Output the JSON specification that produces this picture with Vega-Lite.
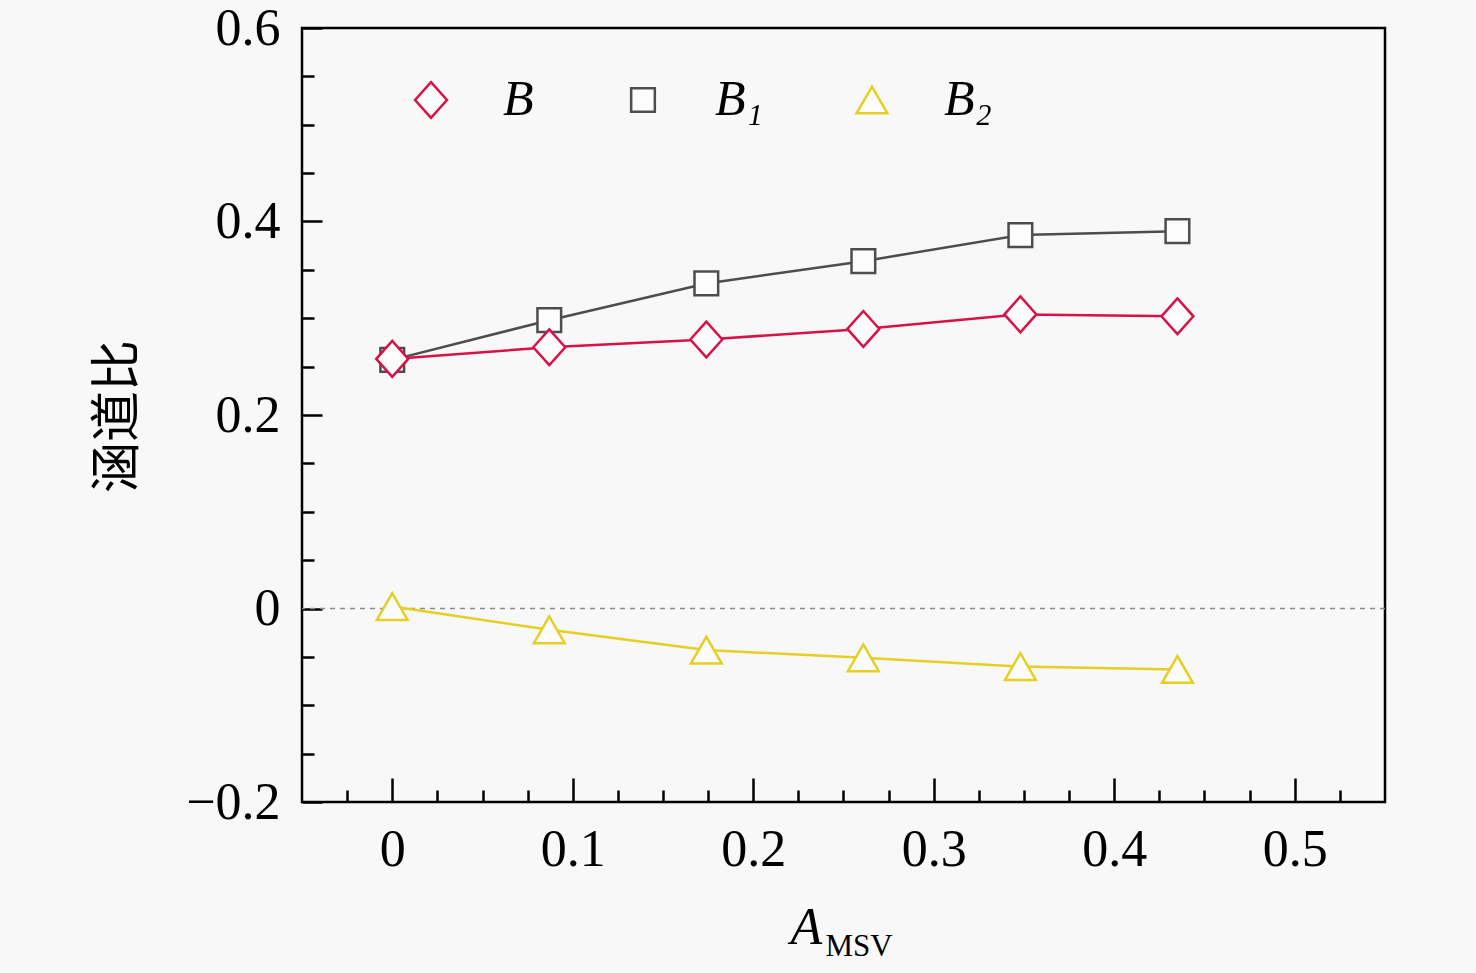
{
  "$schema": "https://vega.github.io/schema/vega-lite/v6.json",
  "width": 1083,
  "height": 774,
  "autosize": {"type": "none"},
  "padding": {"left": 302, "top": 28, "right": 91, "bottom": 171},
  "background": "#f8f8f8",
  "config": {
    "view": {"stroke": "#000000", "strokeWidth": 2.5},
    "font": "Liberation Serif"
  },
  "data": {
    "values": [
      {"a": 0, "ratio": 0.002, "series": "B2"},
      {"a": 0.087, "ratio": -0.022, "series": "B2"},
      {"a": 0.174, "ratio": -0.043, "series": "B2"},
      {"a": 0.261, "ratio": -0.051, "series": "B2"},
      {"a": 0.348, "ratio": -0.060, "series": "B2"},
      {"a": 0.435, "ratio": -0.063, "series": "B2"},
      {"a": 0, "ratio": 0.257, "series": "B1"},
      {"a": 0.087, "ratio": 0.298, "series": "B1"},
      {"a": 0.174, "ratio": 0.336, "series": "B1"},
      {"a": 0.261, "ratio": 0.359, "series": "B1"},
      {"a": 0.348, "ratio": 0.386, "series": "B1"},
      {"a": 0.435, "ratio": 0.390, "series": "B1"},
      {"a": 0, "ratio": 0.258, "series": "B"},
      {"a": 0.087, "ratio": 0.270, "series": "B"},
      {"a": 0.174, "ratio": 0.278, "series": "B"},
      {"a": 0.261, "ratio": 0.289, "series": "B"},
      {"a": 0.348, "ratio": 0.304, "series": "B"},
      {"a": 0.435, "ratio": 0.302, "series": "B"}
    ]
  },
  "layer": [
    {
      "data": {"values": [{"zero": 0}]},
      "mark": {"type": "rule", "color": "#8a8a8a", "strokeDash": [5, 5], "strokeWidth": 1.5},
      "encoding": {
        "y": {
          "field": "zero",
          "type": "quantitative",
          "scale": {"domain": [-0.2, 0.6], "nice": false, "zero": false},
          "axis": {
            "orient": "left",
            "values": [-0.2, 0, 0.2, 0.4, 0.6],
            "format": "~g",
            "ticks": false,
            "domain": false,
            "grid": false,
            "labelFont": "Liberation Serif",
            "labelFontSize": 52,
            "labelColor": "#000000",
            "labelPadding": 22,
            "labelFlush": false,
            "labelOverlap": false,
            "title": "涵道比",
            "titleFont": "Noto Sans CJK SC",
            "titleFontSize": 51,
            "titleFontWeight": "normal",
            "titleColor": "#000000",
            "titleAngle": 270,
            "titleAlign": "center",
            "titleBaseline": "middle",
            "titleX": -184,
            "titleY": 388
          }
        }
      }
    },
    {
      "mark": {"type": "line", "strokeWidth": 2.5},
      "encoding": {
        "x": {
          "field": "a",
          "type": "quantitative",
          "scale": {"domain": [-0.05, 0.55], "nice": false, "zero": false},
          "axis": {
            "orient": "bottom",
            "values": [0, 0.1, 0.2, 0.3, 0.4, 0.5],
            "format": "~g",
            "ticks": false,
            "domain": false,
            "grid": false,
            "labelFont": "Liberation Serif",
            "labelFontSize": 52,
            "labelColor": "#000000",
            "labelPadding": 22,
            "labelFlush": false,
            "labelOverlap": false,
            "title": "A",
            "titleFont": "Liberation Serif",
            "titleFontSize": 52,
            "titleFontStyle": "italic",
            "titleFontWeight": "normal",
            "titleColor": "#000000",
            "titleAlign": "left",
            "titleBaseline": "alphabetic",
            "titleX": 488,
            "titleY": 141
          }
        },
        "y": {
          "field": "ratio",
          "type": "quantitative",
          "scale": {"domain": [-0.2, 0.6], "nice": false, "zero": false},
          "axis": {
            "orient": "left",
            "values": [-0.2, 0, 0.2, 0.4, 0.6],
            "labels": false,
            "domain": false,
            "grid": false,
            "ticks": true,
            "tickSize": -20,
            "tickWidth": 2.5,
            "tickColor": "#000000",
            "title": null
          }
        },
        "color": {
          "field": "series",
          "type": "nominal",
          "scale": {"domain": ["B", "B1", "B2"], "range": ["#d8114a", "#4d4d4d", "#e4cf22"]}
        }
      }
    },
    {
      "mark": {"type": "point", "filled": false, "fill": "#fcfcfc", "strokeWidth": 2.5, "opacity": 1},
      "encoding": {
        "x": {
          "field": "a",
          "type": "quantitative",
          "axis": {
            "orient": "bottom",
            "values": [0, 0.1, 0.2, 0.3, 0.4, 0.5],
            "labels": false,
            "domain": false,
            "grid": false,
            "ticks": true,
            "tickSize": -24,
            "tickWidth": 2.5,
            "tickColor": "#000000",
            "title": "MSV",
            "titleFont": "Liberation Serif",
            "titleFontSize": 31,
            "titleFontWeight": "normal",
            "titleColor": "#000000",
            "titleAlign": "left",
            "titleBaseline": "alphabetic",
            "titleX": 523,
            "titleY": 153
          }
        },
        "y": {
          "field": "ratio",
          "type": "quantitative",
          "axis": {
            "orient": "left",
            "values": [-0.15, -0.1, -0.05, 0.05, 0.1, 0.15, 0.25, 0.3, 0.35, 0.45, 0.5, 0.55],
            "labels": false,
            "domain": false,
            "grid": false,
            "ticks": true,
            "tickSize": -12,
            "tickWidth": 2.5,
            "tickColor": "#000000",
            "title": null
          }
        },
        "color": {
          "field": "series",
          "type": "nominal",
          "legend": {
            "title": null,
            "orient": "none",
            "legendX": 70,
            "legendY": 47,
            "direction": "horizontal",
            "columns": 3,
            "padding": 0,
            "columnPadding": 50,
            "symbolSize": 900,
            "symbolStrokeWidth": 2.5,
            "symbolOffset": 34,
            "labelOffset": 47,
            "labelFont": "Liberation Serif",
            "labelFontSize": 50,
            "labelFontStyle": "italic",
            "labelColor": "#000000",
            "labelLimit": 0,
            "labelExpr": "datum.value == 'B1' ? 'B₁' : datum.value == 'B2' ? 'B₂' : 'B'",
            "encode": {
              "symbols": {
                "size": {"value": 900},
                "fill": {"value": "#fcfcfc"},
                "strokeWidth": {"value": 2.5},
                "opacity": {"value": 1}
              }
            }
          }
        },
        "shape": {
          "field": "series",
          "type": "nominal",
          "scale": {"domain": ["B", "B1", "B2"], "range": ["M-1,0L0,-1.12L1,0L0,1.12Z", "square", "triangle-up"]}
        },
        "size": {
          "field": "series",
          "type": "nominal",
          "scale": {"type": "ordinal", "domain": ["B", "B1", "B2"], "range": [1020, 560, 950]}
        }
      }
    },
    {
      "mark": {"type": "line", "strokeOpacity": 0},
      "encoding": {
        "x": {
          "field": "a",
          "type": "quantitative",
          "axis": {
            "orient": "bottom",
            "values": [-0.025, 0.025, 0.05, 0.075, 0.125, 0.15, 0.175, 0.225, 0.25, 0.275, 0.325, 0.35, 0.375, 0.425, 0.45, 0.475, 0.525],
            "labels": false,
            "domain": false,
            "grid": false,
            "ticks": true,
            "tickSize": -12,
            "tickWidth": 2.5,
            "tickColor": "#000000",
            "title": null
          }
        },
        "y": {"field": "ratio", "type": "quantitative", "axis": null},
        "detail": {"field": "series", "type": "nominal"}
      }
    }
  ],
  "resolve": {"axis": {"x": "independent", "y": "independent"}}
}
